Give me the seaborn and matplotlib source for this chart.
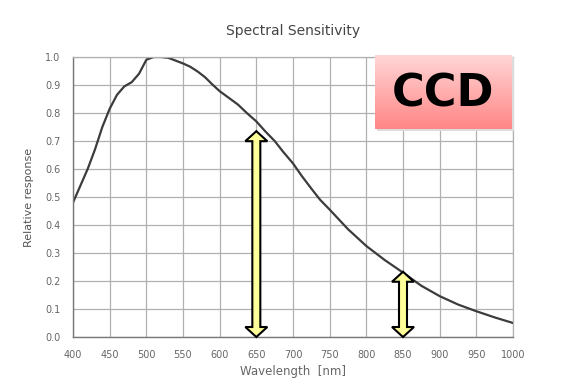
import numpy as np
import pandas as pd
import matplotlib
matplotlib.use("Agg")
import matplotlib.pyplot as plt
import seaborn as sns
from matplotlib.patches import Polygon

# sensitivity curve
wavelength = [400, 410, 420, 430, 440, 450, 460, 470, 480, 490, 500, 510, 520, 530,
              540, 550, 560, 570, 580, 590, 600, 612, 625, 637, 650, 662, 675, 687,
              700, 712, 725, 737, 750, 775, 800, 825, 850, 875, 900, 925, 950, 975, 1000]
response = [0.48, 0.54, 0.60, 0.67, 0.75, 0.815, 0.865, 0.895, 0.91, 0.94, 0.99, 1.0, 1.0, 0.997,
            0.987, 0.977, 0.965, 0.948, 0.928, 0.902, 0.878, 0.855, 0.83, 0.80, 0.77, 0.735, 0.70, 0.66,
            0.62, 0.575, 0.53, 0.49, 0.455, 0.385, 0.325, 0.275, 0.23, 0.183, 0.146, 0.116, 0.092, 0.07, 0.05]

# double arrows marking the response at two wavelengths
arrow_x = [650, 850]
arrow_top = [0.735, 0.233]

xticks = list(range(400, 1001, 50))
yticks = [round(v * 0.1, 1) for v in range(11)]

df = pd.DataFrame({"Wavelength": wavelength, "Response": response})

sns.set_style("white")
plt.rcParams["font.family"] = ["DejaVu Sans"]

fig = plt.figure(figsize=(5.73, 3.84), dpi=100)
ax = fig.add_axes([73 / 573, 47 / 384, 440 / 573, 280 / 384])

sns.lineplot(data=df, x="Wavelength", y="Response", ax=ax, color="#3c3c3c", lw=1.6)

ax.set_xlim(400, 1000)
ax.set_ylim(0, 1.0)
ax.set_xticks(xticks)
ax.set_yticks(yticks)
ax.set_xticklabels([str(t) for t in xticks], fontsize=7, color="#666666")
ax.set_yticklabels([f"{t:.1f}" for t in yticks], fontsize=7, color="#666666")
ax.grid(True, color="#b0b0b0", lw=0.9)
ax.set_axisbelow(True)
for s in ["top", "right"]:
    ax.spines[s].set_color("#b0b0b0")
    ax.spines[s].set_linewidth(0.9)
for s in ["left", "bottom"]:
    ax.spines[s].set_color("#777777")
    ax.spines[s].set_linewidth(1.0)
ax.tick_params(axis="both", length=3, color="#777777", pad=6)

ax.set_xlabel("Wavelength  [nm]", fontsize=8.5, color="#666666", labelpad=4)
ax.set_ylabel("Relative response", fontsize=8, color="#555555", labelpad=8)
ax.set_title("Spectral Sensitivity", fontsize=10, color="#444444", pad=16)

# arrow shape in pixel units converted to data units
nm_per_px = 600 / 440
y_per_px = 1.0 / 280
shaft = 4 * nm_per_px
head = 11 * nm_per_px
head_len = 10 * y_per_px


def double_arrow(x, top):
    pts = [
        (x, top),
        (x + head, top - head_len),
        (x + shaft, top - head_len),
        (x + shaft, head_len),
        (x + head, head_len),
        (x, 0.0),
        (x - head, head_len),
        (x - shaft, head_len),
        (x - shaft, top - head_len),
        (x - head, top - head_len),
    ]
    return Polygon(pts, closed=True, facecolor="#ffff99", edgecolor="black",
                   lw=1.5, zorder=5, clip_on=False)


for xa, ta in zip(arrow_x, arrow_top):
    ax.add_patch(double_arrow(xa, ta))

# CCD label box with a vertical pink gradient
shadow = fig.add_axes([377 / 573, (384 - 131) / 384, 137 / 573, 74 / 384])
shadow.set_facecolor("#dcdcdc")
shadow.set_xticks([])
shadow.set_yticks([])
for s in shadow.spines.values():
    s.set_visible(False)

box = fig.add_axes([375 / 573, (384 - 129) / 384, 137 / 573, 74 / 384])
grad = np.linspace(0, 1, 100).reshape(-1, 1)
top_c = np.array([255, 214, 214]) / 255
bot_c = np.array([255, 134, 134]) / 255
img = top_c[None, None, :] * (1 - grad[:, :, None]) + bot_c[None, None, :] * grad[:, :, None]
box.imshow(img, aspect="auto", extent=[0, 1, 0, 1])
box.set_xlim(0, 1)
box.set_ylim(0, 1)
box.axis("off")
box.text(0.5, 0.47, "CCD", ha="center", va="center", fontsize=32,
         fontweight="bold", color="black", family=["DejaVu Sans"])

fig.savefig("out.png", dpi=100, facecolor="white")
